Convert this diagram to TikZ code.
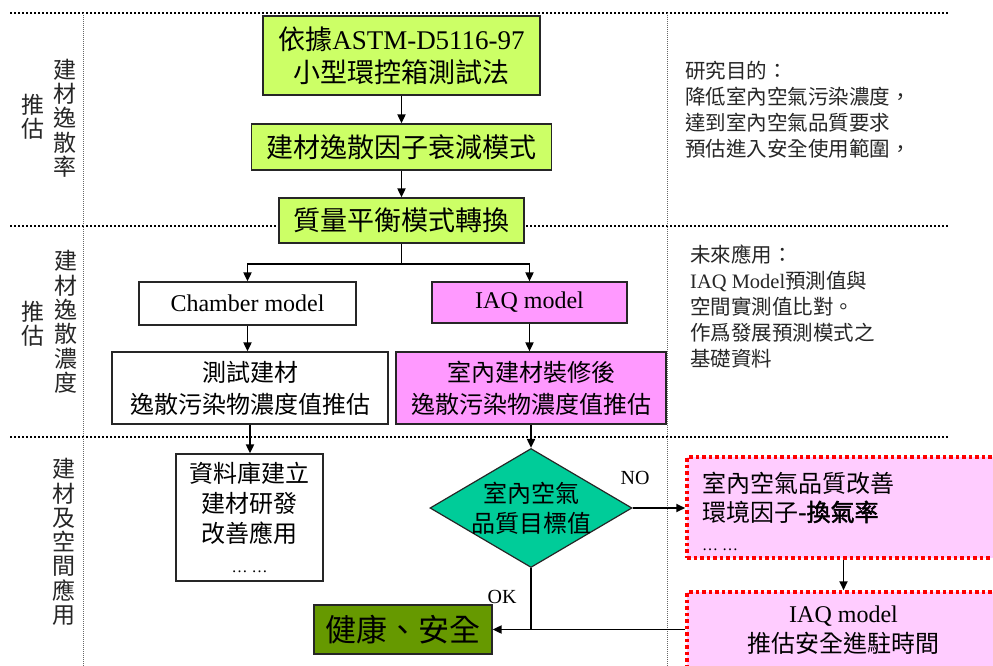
\documentclass[tikz,border=0pt]{standalone}
\usepackage{fontspec}
\setmainfont{Noto Sans CJK TC}
\newfontfamily\tm{Liberation Serif}
\newfontfamily\cjkb[FakeBold=2]{Noto Sans CJK TC}
\usetikzlibrary{arrows.meta,shapes.geometric,calc}
\definecolor{gbox}{HTML}{CCFF66}
\definecolor{pbox}{HTML}{FF99FF}
\definecolor{dgreen}{HTML}{00CC99}
\definecolor{olive}{HTML}{669900}
\definecolor{lpink}{HTML}{FFCCFF}
\begin{document}
\begin{tikzpicture}[x=1pt,y=-1pt,
  fbox/.style={draw=black!85, line width=1.2pt, inner sep=0pt, align=center},
  arr/.style={-{Triangle[length=9pt,width=8pt]}, line width=1.8pt},
  ln/.style={line width=1.8pt},
  hdot/.style={line width=2pt, dash pattern=on 2pt off 2pt},
  vdot/.style={line width=0.8pt, black!60, dash pattern=on 1pt off 1pt},
  redbox/.style={draw=red, line width=3.5pt, dash pattern=on 3.5pt off 3pt, fill=lpink, inner sep=0pt},
  vlab/.style={align=center, inner sep=0pt, font=\fontsize{23}{24.3}\selectfont, text=black!85},
  note/.style={align=left, inner sep=0pt, font=\fontsize{20.5}{26}\selectfont, text=black!85}
]
\useasboundingbox (0,0) rectangle (993,666);
\fill[white] (0,0) rectangle (993,666);

% dotted separators
\draw[hdot] (10,13) coordinate (h1a) -- (948,13) coordinate (h1b);
\draw[hdot] (10,226) coordinate (h2a) -- (948,226) coordinate (h2b);
\draw[hdot] (10,437) coordinate (h3a) -- (948,437) coordinate (h3b);
\draw[vdot] (83,13) coordinate (v1a) -- (83,666) coordinate (v1b);
\draw[vdot] (667,13) coordinate (v2a) -- (667,666) coordinate (v2b);

% left labels
\node[vlab] (l1a) at (33,117) {推\\估};
\node[vlab] (l1b) at (64.5,118) {建\\材\\逸\\散\\率};
\node[vlab] (l2a) at (33,324) {推\\估};
\node[vlab] (l2b) at (66,322) {建\\材\\逸\\散\\濃\\度};
\node[vlab] (l3b) at (64,542) {建\\材\\及\\空\\間\\應\\用};

% main flow
\node[fbox, fill=gbox, minimum width=277pt, minimum height=79pt, font=\fontsize{27}{33}\selectfont] (b1) at (401.5,55.5) {依據{\tm ASTM-D5116-97}\\小型環控箱測試法};
\node[fbox, fill=gbox, minimum width=300pt, minimum height=46pt, font=\fontsize{27}{33}\selectfont] (b2) at (401.5,147) {建材逸散因子衰減模式};
\node[fbox, fill=gbox, minimum width=245pt, minimum height=45pt, font=\fontsize{27}{33}\selectfont] (b3) at (401.5,220.5) {質量平衡模式轉換};

\node[fbox, fill=white, minimum width=217pt, minimum height=43pt, font=\tm\fontsize{24}{30}\selectfont] (ch) at (247.5,303.5) {Chamber model};
\node[fbox, fill=pbox, minimum width=195pt, minimum height=41pt, font=\tm\fontsize{24}{30}\selectfont] (iaq) at (529.5,302.5) {IAQ model};

\node[fbox, fill=white, minimum width=276pt, minimum height=72pt, font=\fontsize{24}{32}\selectfont] (test) at (250,388) {測試建材\\逸散污染物濃度值推估};
\node[fbox, fill=pbox, minimum width=270pt, minimum height=72pt, font=\fontsize{24}{32}\selectfont] (room) at (531,388) {室內建材裝修後\\逸散污染物濃度值推估};

\node[fbox, fill=white, minimum width=147pt, minimum height=127pt, font=\fontsize{24}{30}\selectfont] (db) at (249.5,517.5) {資料庫建立\\建材研發\\改善應用\\{\tm\fontsize{16}{30}\selectfont … …}};

\node[diamond, draw=black!85, line width=1.2pt, fill=dgreen, minimum width=202pt, minimum height=119pt, inner sep=0pt] (d) at (531,508) {};
\node[align=center, inner sep=0pt, font=\fontsize{24}{30}\selectfont] (dt) at (d.center) {室內空氣\\品質目標值};

\node[fbox, fill=olive, minimum width=178pt, minimum height=49pt, font=\fontsize{31}{36}\selectfont] (hs) at (403,629.5) {健康、安全};

% red dotted boxes
\node[redbox, minimum width=313pt, minimum height=101pt] (rb1) at (843.5,507.5) {};
\node[align=left, inner sep=0pt, anchor=west, font=\fontsize{24}{29}\selectfont] (rt1) at (702,511) {室內空氣品質改善\\環境因子{\cjkb -換氣率}\\{\tm\fontsize{16}{29}\selectfont … …}};
\node[redbox, minimum width=313pt, minimum height=88pt, align=center, font=\fontsize{24}{30}\selectfont] (rb2) at (843.5,636) {};
\node[align=center, inner sep=0pt, font=\fontsize{24}{30}\selectfont] (rt2) at (843.5,630) {{\tm IAQ model}\\推估安全進駐時間};

% labels
\node[inner sep=0pt, font=\tm\fontsize{20}{24}\selectfont] (no) at (635,478) {NO};
\node[inner sep=0pt, font=\tm\fontsize{20}{24}\selectfont] (ok) at (502,597) {OK};

% notes
\node[note, anchor=west] (n1) at (685,110) {研究目的：\\降低室內空氣污染濃度，\\達到室內空氣品質要求\\預估進入安全使用範圍，};
\node[note, anchor=west] (n2) at (690,307) {未來應用：\\{\tm IAQ Model}預測值與\\空間實測值比對。\\作爲發展預測模式之\\基礎資料};

% connectors
\draw[arr] (b1.south) -- (b2.north);
\draw[arr] (b2.south) -- (b3.north);
\coordinate (sp) at ($(b3.south)+(0,20)$);
\draw[ln] (b3.south) -- (sp);
\draw[arr] (sp) -| (ch.north);
\draw[arr] (sp) -| (iaq.north);
\draw[arr] (ch.south) -- (ch.south |- test.north);
\draw[arr] (iaq.south) -- (iaq.south |- room.north);
\draw[arr] (test.south) -- (test.south |- db.north);
\draw[arr] (room.south) -- (d.north);
\draw[arr] (d.east) -- (d.east -| rb1.west);
\draw[arr] (rb1.south) -- (rb2.north);
\draw[ln] (d.south) -- (d.south |- hs.east);
\draw[arr] (rb2.west |- hs.east) -- (hs.east);
\end{tikzpicture}
\end{document}
